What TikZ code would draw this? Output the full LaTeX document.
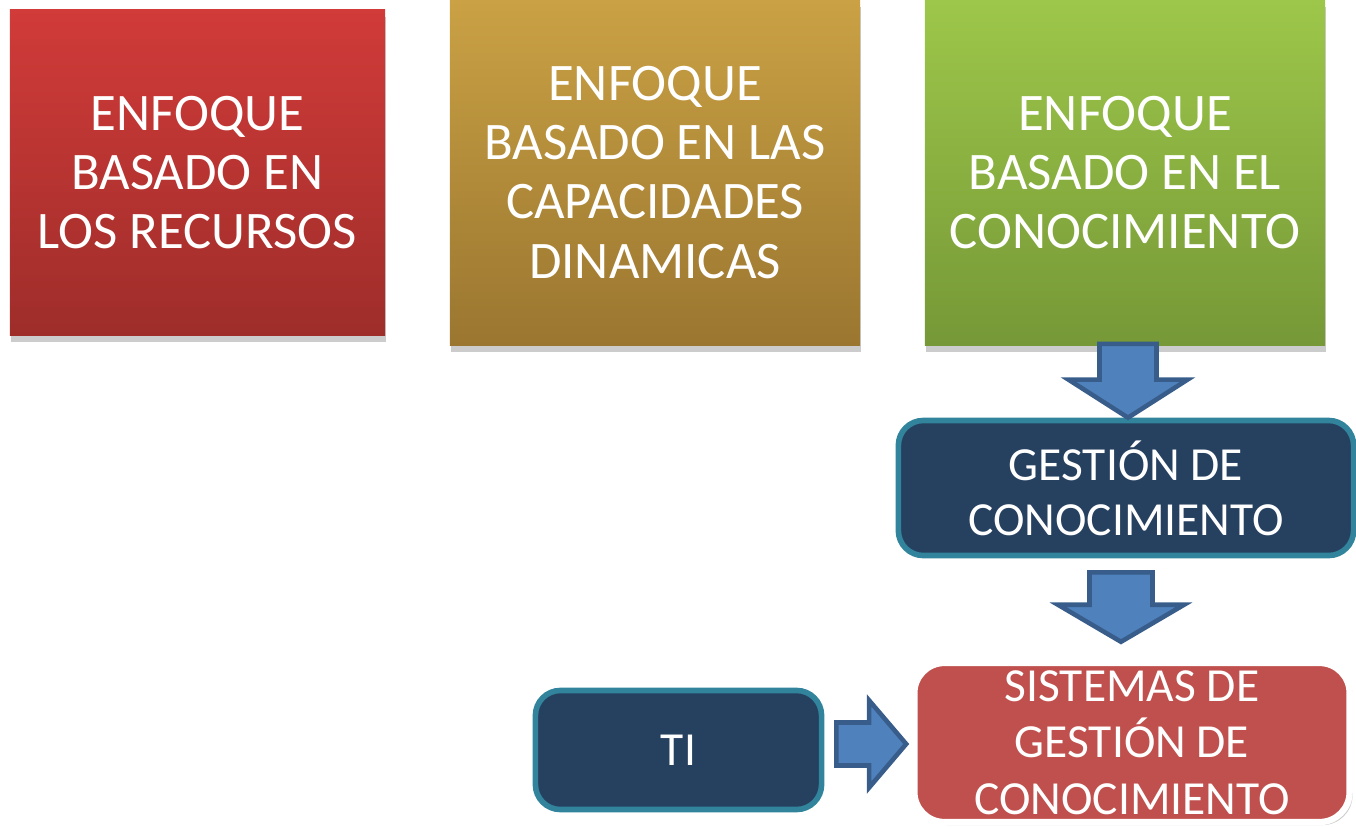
\documentclass[tikz,border=0pt]{standalone}
\usepackage{fontspec}
\setmainfont{Carlito}
\usepackage{tikz}
\usetikzlibrary{calc,shadows}

\definecolor{redtop}{RGB}{209,59,57}
\definecolor{redbot}{RGB}{158,45,42}
\definecolor{goldtop}{RGB}{202,161,68}
\definecolor{goldbot}{RGB}{154,118,48}
\definecolor{greentop}{RGB}{157,199,74}
\definecolor{greenbot}{RGB}{118,152,55}
\definecolor{navy}{RGB}{38,64,96}
\definecolor{gkteal}{RGB}{49,132,155}
\definecolor{brick}{RGB}{192,80,77}
\definecolor{arrowfill}{RGB}{79,129,189}
\definecolor{arrowline}{RGB}{56,93,138}

% block arrow, down: start, end, body half width, head half width, head length
\newcommand{\downblock}[5]{%
  \draw[blockarrow] let \p1=(#1), \p2=(#2) in
  (\x1-#3,\y1) -- (\x1+#3,\y1) -- (\x1+#3,\y2+#5) -- (\x1+#4,\y2+#5)
  -- (\x1,\y2) -- (\x1-#4,\y2+#5) -- (\x1-#3,\y2+#5) -- cycle;}
% block arrow, right: same arguments
\newcommand{\rightblock}[5]{%
  \draw[blockarrow] let \p1=(#1), \p2=(#2) in
  (\x1,\y1+#3) -- (\x1,\y1-#3) -- (\x2-#5,\y1-#3) -- (\x2-#5,\y1-#4)
  -- (\x2,\y1) -- (\x2-#5,\y1+#4) -- (\x2-#5,\y1+#3) -- cycle;}

\begin{document}
\begin{tikzpicture}[x=0.01cm,y=-0.01cm
	,topbox/.style={rectangle,text=white,align=center,inner sep=0pt
	  ,font=\fontsize{15}{16.8}\selectfont
	  ,drop shadow={shadow xshift=0.1mm,shadow yshift=-0.7mm,opacity=0.2,fill=black}}
	,navybox/.style={rectangle,rounded corners=0.25cm,fill=navy,draw=gkteal
	  ,line width=1.6pt,text=white,align=center,inner sep=0pt
	  ,font=\fontsize{13.5}{15.6}\selectfont}
	,brickbox/.style={rectangle,rounded corners=0.3cm,fill=brick,draw=white
	  ,line width=1.8pt,text=white,align=center,inner sep=0pt
	  ,font=\fontsize{13.5}{16}\selectfont
	  ,drop shadow={shadow xshift=0.3mm,shadow yshift=-0.3mm,opacity=0.2,fill=black}}
	,blockarrow/.style={fill=arrowfill,draw=arrowline,line width=1.3pt}]
  \useasboundingbox (0,0) rectangle (1356,827);

  % three approaches
  \node[topbox,top color=redtop,bottom color=redbot
    ,minimum width=3.75cm,minimum height=3.25cm]
    (recursos) at (197.5,172.5) {ENFOQUE\\BASADO EN\\LOS RECURSOS};
  \node[topbox,top color=goldtop,bottom color=goldbot
    ,minimum width=4.1cm,minimum height=3.45cm]
    (capacidades) at (655,172.5) {ENFOQUE\\BASADO EN LAS\\CAPACIDADES\\DINAMICAS};
  \node[topbox,top color=greentop,bottom color=greenbot
    ,minimum width=4.0cm,minimum height=3.45cm]
    (conocimiento) at (1125,172.5) {ENFOQUE\\BASADO EN EL\\CONOCIMIENTO};

  % chain below
  \node[navybox,minimum width=4.55cm,minimum height=1.35cm]
    (gestion) at (1126,488) {GESTIÓN DE\\CONOCIMIENTO};
  \node[navybox,minimum width=2.86cm,minimum height=1.19cm]
    (ti) at (678.5,750) {TI};
  \node[brickbox,minimum width=4.35cm,minimum height=1.59cm]
    (sistemas) at (1132,742.5) {SISTEMAS DE\\GESTIÓN DE\\CONOCIMIENTO};

  % arrows
  \downblock{$(conocimiento.south)+(3,-2)$}{gestion.north}{0.285cm}{0.595cm}{0.38cm}
  \downblock{$(gestion.south)+(-5,14)$}{$(sistemas.north)+(0,-18)$}{0.315cm}{0.63cm}{0.37cm}
  \rightblock{$(ti.east)+(12,-6)$}{$(sistemas.west)+(-5,0)$}{0.215cm}{0.435cm}{0.37cm}

\end{tikzpicture}
\end{document}
